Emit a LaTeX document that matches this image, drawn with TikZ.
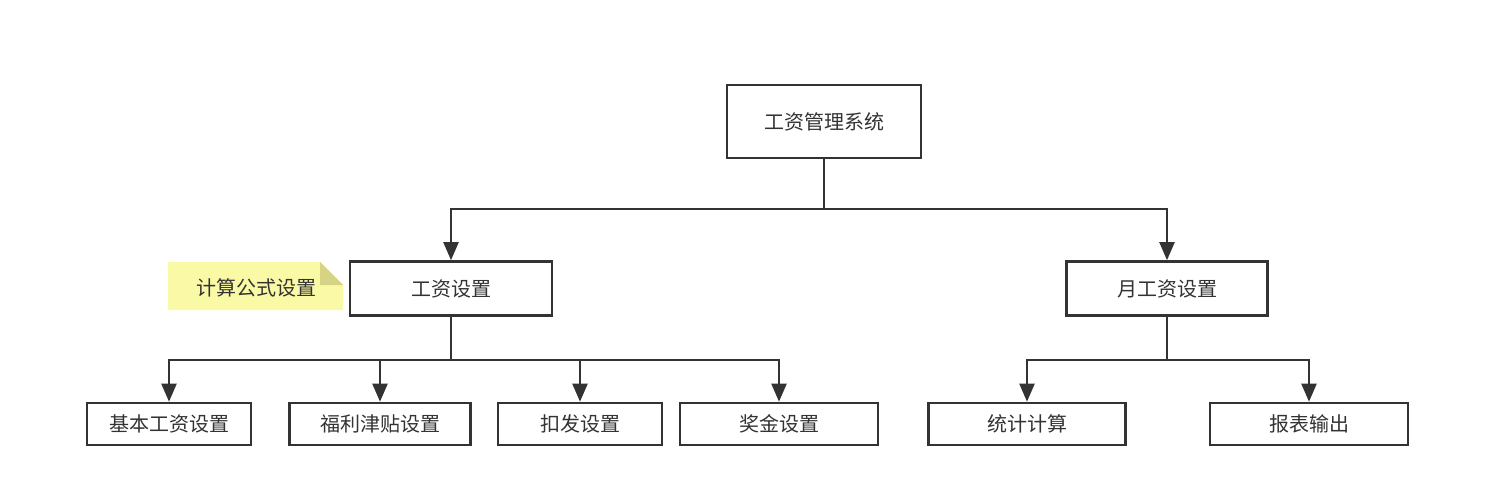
\documentclass[tikz,border=0pt]{standalone}
\usepackage{fontspec}
\setmainfont{Noto Sans CJK SC}
\usetikzlibrary{positioning}
\usetikzlibrary{arrows.meta}
\definecolor{ink}{RGB}{51,51,51}
\definecolor{notefill}{RGB}{250,249,165}
\definecolor{notefold}{RGB}{214,212,132}
\tikzset{box/.style = {draw=ink, line width=2.6pt, fill=white, text=ink,
                       inner sep=0, font=\fontsize{20}{20}\selectfont}}
\tikzset{arr/.style = {draw=ink, line width=2.2pt,
                       -{Triangle[length=18pt,width=15pt]}}}

\begin{document}
\begin{tikzpicture}[x=1pt,y=-1pt]
      \useasboundingbox (0,0) rectangle (1486,484);

      % top level
      \node[box, minimum width=194, minimum height=73] (sys) at (824,121.5) {工资管理系统};

      % second level
      \node[box, minimum width=202, minimum height=54] (set) at (451,288.5) {工资设置};
      \node[box, minimum width=201, minimum height=54] (month) at (1167,288.5) {月工资设置};

      % third level
      \node[box, minimum width=164, minimum height=42] (basic) at (169,424) {基本工资设置};
      \node[box, minimum width=181, minimum height=42] (bonus) at (380,424) {福利津贴设置};
      \node[box, minimum width=164, minimum height=42] (deduct) at (580,424) {扣发设置};
      \node[box, minimum width=198, minimum height=42] (award) at (779,424) {奖金设置};
      \node[box, minimum width=197, minimum height=42] (stat) at (1027,424) {统计计算};
      \node[box, minimum width=198, minimum height=42] (report) at (1309,424) {报表输出};

      % note
      \fill[notefill] (168,262) -- (320,262) -- (343,285) -- (343,310) -- (168,310) -- cycle;
      \fill[notefold] (320,262) -- (320,285) -- (343,285) -- cycle;
      \node[text=ink, font=\fontsize{20}{20}\selectfont] (note) at (256,288) {计算公式设置};

      % connectors
      \coordinate (j1) at (824,209);
      \coordinate (j2) at (451,360);
      \coordinate (j3) at (1167,360);
      \draw[arr] (sys) -- (j1) -| (set);
      \draw[arr] (j1) -| (month);
      \draw[arr] (set) -- (j2) -| (basic);
      \draw[arr] (j2) -| (bonus);
      \draw[arr] (j2) -| (deduct);
      \draw[arr] (j2) -| (award);
      \draw[arr] (month) -- (j3) -| (stat);
      \draw[arr] (j3) -| (report);
    \end{tikzpicture}
\end{document}
